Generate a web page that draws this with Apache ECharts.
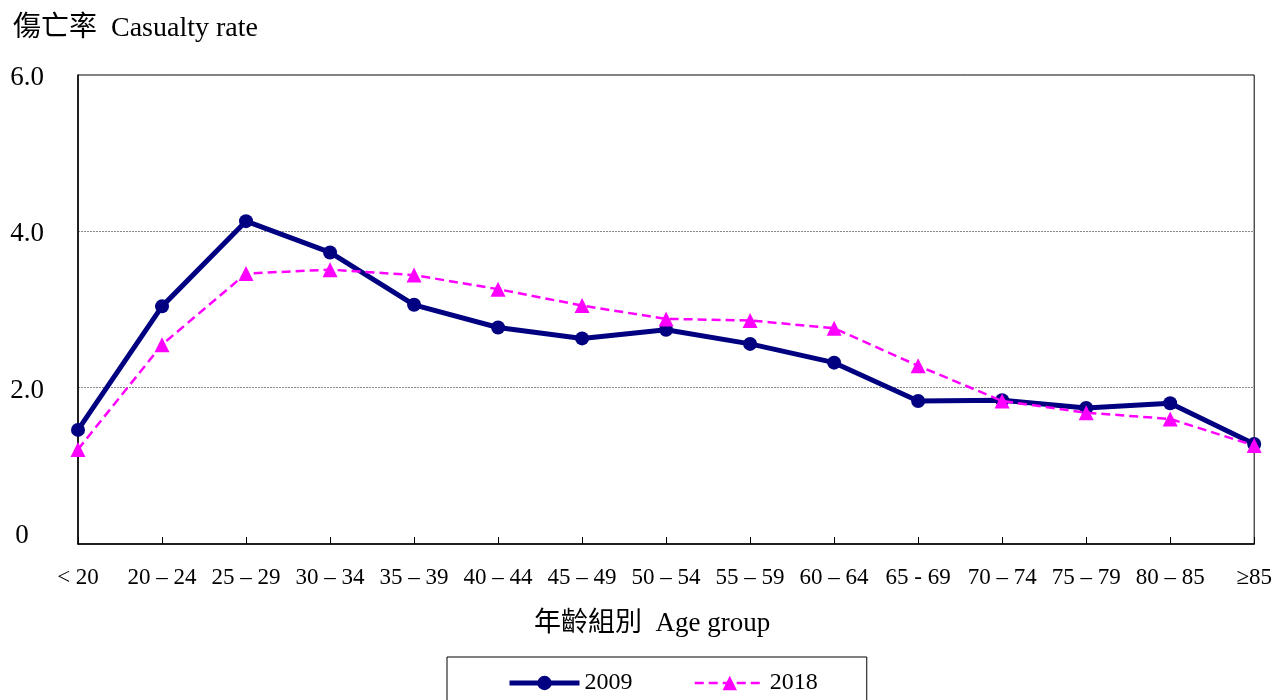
<!DOCTYPE html>
<html>
<head>
<meta charset="utf-8">
<script src="https://cdn.jsdelivr.net/npm/echarts@6/dist/echarts.min.js"></script>
<style>
  html, body { margin: 0; padding: 0; background: #fff; }
  #chart { width: 1275px; height: 700px; }
</style>
</head>
<body>
<div id="chart"></div>
<script>
// Age groups along the horizontal axis
const ageGroups = ['< 20', '20 – 24', '25 – 29', '30 – 34', '35 – 39', '40 – 44', '45 – 49',
  '50 – 54', '55 – 59', '60 – 64', '65 - 69', '70 – 74', '75 – 79', '80 – 85', '≥85'];

// Casualty rate by age group
const rate2009 = [1.46, 3.04, 4.13, 3.73, 3.06, 2.77, 2.63, 2.74, 2.56, 2.32, 1.83, 1.84, 1.74, 1.80, 1.28];
const rate2018 = [1.21, 2.55, 3.46, 3.51, 3.44, 3.26, 3.05, 2.88, 2.86, 2.76, 2.28, 1.83, 1.68, 1.60, 1.26];

// Value axis ticks
const yTicks = { min: 0, max: 6, interval: 2 };

const SERIF = '"Liberation Serif", "Times New Roman", "Noto Sans CJK TC", serif';

const chart = echarts.init(document.getElementById('chart'), null, { renderer: 'canvas' });

chart.setOption({
  animation: false,
  backgroundColor: '#ffffff',
  title: {
    text: '傷亡率  Casualty rate',
    left: 8,
    top: 10,
    textStyle: { fontFamily: SERIF, fontWeight: 'normal', fontSize: 28, color: '#000' }
  },
  grid: {
    left: 78, right: 20, top: 75, bottom: 156,
    show: true, borderColor: '#000', borderWidth: 1, backgroundColor: 'transparent'
  },
  legend: {
    left: 447,
    top: 657,
    padding: [14, 49, 26, 60],
    itemGap: 61,
    itemWidth: 70,
    itemHeight: 18,
    borderColor: '#000',
    borderWidth: 1,
    borderRadius: 0,
    textStyle: { fontFamily: SERIF, fontSize: 24, color: '#000' },
    data: [
      { name: '2009', lineStyle: { width: 5 } },
      { name: '2018', lineStyle: { width: 2.5 } }
    ]
  },
  xAxis: {
    type: 'category',
    data: ageGroups,
    boundaryGap: false,
    name: '年齡組別  Age group',
    nameLocation: 'middle',
    nameGap: 66,
    nameTextStyle: { fontFamily: SERIF, fontSize: 27, color: '#000', padding: [0, 28, 0, 0] },
    axisLine: { lineStyle: { color: '#000', width: 1.5 } },
    axisTick: { show: true, inside: true, length: 7, lineStyle: { color: '#000' } },
    axisLabel: { fontFamily: SERIF, fontSize: 23, color: '#000', margin: 22, interval: 0 },
    splitLine: { show: false }
  },
  yAxis: {
    type: 'value',
    min: yTicks.min,
    max: yTicks.max,
    interval: yTicks.interval,
    axisLine: { show: true, lineStyle: { color: '#000', width: 1.5 } },
    axisTick: { show: false },
    axisLabel: {
      color: '#000', margin: 51, align: 'center',
      formatter: v => (v === 0 ? '{zero|0}' : '{num|' + v.toFixed(1) + '}'),
      rich: {
        num: { fontFamily: SERIF, fontSize: 27, color: '#000', padding: [6, 0, 0, 0] },
        zero: { fontFamily: SERIF, fontSize: 27, color: '#000', padding: [0, 10, 16, 0] }
      }
    },
    splitLine: { show: true, lineStyle: { color: '#888', type: [2, 1], width: 1 } }
  },
  series: [
    {
      name: '2009',
      type: 'line',
      data: rate2009,
      symbol: 'circle',
      symbolSize: 14,
      lineStyle: { color: '#000080', width: 5 },
      itemStyle: { color: '#000080' },
      z: 2
    },
    {
      name: '2018',
      type: 'line',
      data: rate2018,
      symbol: 'triangle',
      symbolSize: 15,
      lineStyle: { color: '#ff00ff', width: 2.5, type: [9, 5] },
      itemStyle: { color: '#ff00ff' },
      z: 3
    }
  ]
});
</script>
</body>
</html>
